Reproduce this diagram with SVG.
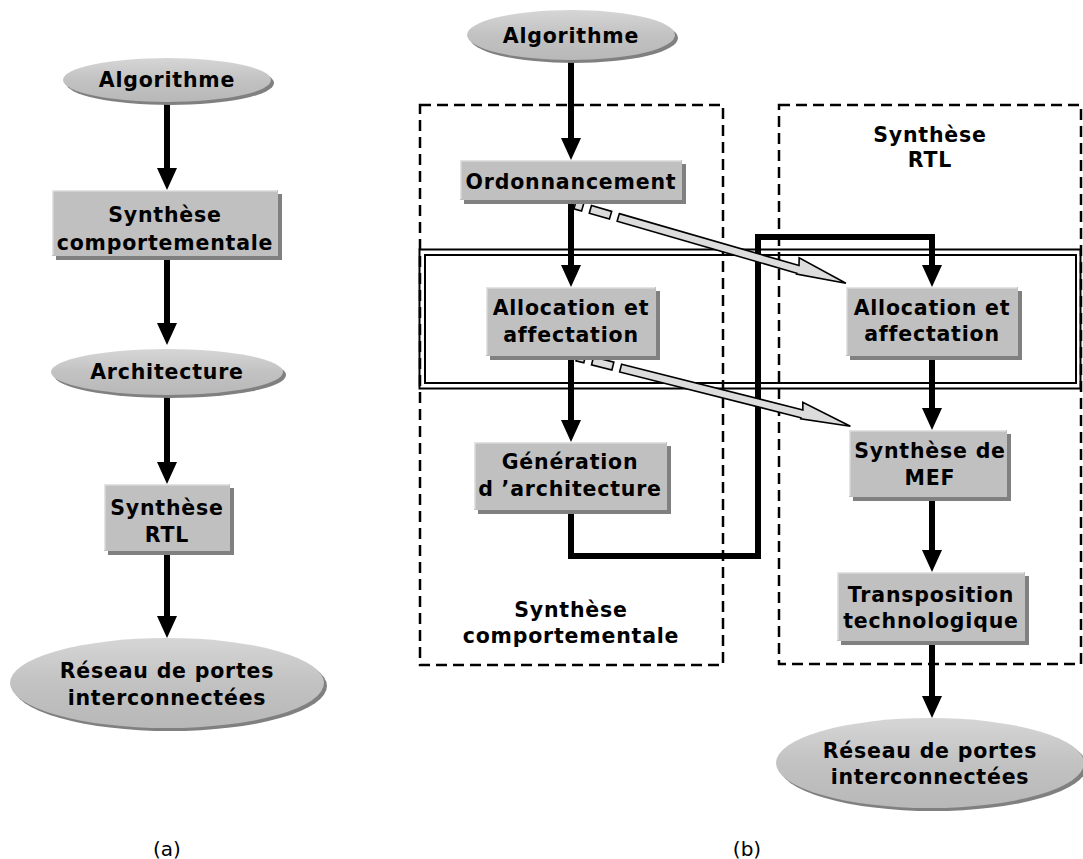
<svg xmlns="http://www.w3.org/2000/svg" xmlns:xlink="http://www.w3.org/1999/xlink" width="1083" height="859" viewBox="0 0 1083 859">
<defs>
<style>
.t{font-family:"DejaVu Sans","Liberation Sans",sans-serif;font-weight:bold;font-size:20.5px;letter-spacing:0.8px;fill:#000;text-anchor:middle}
.cap{font-family:"DejaVu Sans","Liberation Sans",sans-serif;font-size:20px;fill:#000;text-anchor:middle}
.box{fill:#c0c0c0}
.sh{fill:#808080}
.hl{fill:none;stroke:#e4e4e4;stroke-width:1.5}
.ell{fill:url(#eg)}
.shaft{stroke:#000;stroke-width:6;fill:none}
.loop{stroke:#000;stroke-width:6;fill:none;stroke-linejoin:miter}
.dash{fill:none;stroke:#000;stroke-width:2.5;stroke-dasharray:11 6}
.dbl{fill:none;stroke:#000;stroke-width:2}
.hollow{fill:#dcdcdc;stroke:#000;stroke-width:1.6;stroke-linejoin:miter}
</style>
<linearGradient id="eg" x1="0" y1="0" x2="0" y2="1">
<stop offset="0" stop-color="#d6d6d6"/>
<stop offset="0.5" stop-color="#c2c2c2"/>
<stop offset="1" stop-color="#b8b8b8"/>
</linearGradient>
<path id="ah" d="M-10,-22 L10,-22 L0,0 Z" fill="#000"/>
<g id="ha">
<rect class="hollow" x="0" y="-4" width="8" height="8"/>
<rect class="hollow" x="16" y="-4" width="21" height="8"/>
<path class="hollow" d="M45,-4 L232,-4 L230,-11.5 L282,0 L232,5 L232,4 L45,4 Z"/>
</g>
</defs>

<!-- containers -->
<g id="containers">
<rect id="box-comport" class="dash" x="420" y="105" width="303" height="560"/>
<rect id="box-rtl" class="dash" x="779" y="105" width="302" height="559"/>
<rect class="dbl" x="419.5" y="249.5" width="661" height="139"/>
<rect class="dbl" x="425" y="255" width="651" height="128"/>
<text class="t" x="571" y="617">Synthèse</text>
<text class="t" x="571" y="643">comportementale</text>
<text class="t" x="930" y="142">Synthèse</text>
<text class="t" x="930" y="167">RTL</text>
</g>

<!-- connectors -->
<g id="connectors">
<!-- (a) -->
<line class="shaft" x1="167" y1="102" x2="167" y2="170"/><use xlink:href="#ah" x="167" y="190"/>
<line class="shaft" x1="167" y1="256" x2="167" y2="325"/><use xlink:href="#ah" x="167" y="345"/>
<line class="shaft" x1="167" y1="395" x2="167" y2="464"/><use xlink:href="#ah" x="167" y="484"/>
<line class="shaft" x1="167" y1="551" x2="167" y2="618"/><use xlink:href="#ah" x="167" y="638"/>
<!-- (b) -->
<line class="shaft" x1="571" y1="60" x2="571" y2="140"/><use xlink:href="#ah" x="571" y="160"/>
<line class="shaft" x1="571" y1="200" x2="571" y2="267"/><use xlink:href="#ah" x="571" y="287"/>
<line class="shaft" x1="571" y1="356" x2="571" y2="422"/><use xlink:href="#ah" x="571" y="442"/>
<polyline class="loop" points="571,510 571,556 758,556 758,237 932,237 932,268"/><use xlink:href="#ah" x="932" y="287"/>
<line class="shaft" x1="932" y1="356" x2="932" y2="410"/><use xlink:href="#ah" x="932" y="430"/>
<line class="shaft" x1="932" y1="497" x2="932" y2="552"/><use xlink:href="#ah" x="932" y="572"/>
<line class="shaft" x1="932" y1="641" x2="932" y2="698"/><use xlink:href="#ah" x="932" y="718"/>
<use xlink:href="#ha" transform="translate(575,205) rotate(16.1)"/>
<use xlink:href="#ha" transform="translate(577,357) rotate(14.2)"/>
</g>

<!-- (a) nodes -->
<g id="a-algorithme">
<ellipse class="sh" cx="170" cy="83" rx="104" ry="22"/>
<ellipse class="ell" cx="167" cy="80" rx="104" ry="22"/>
<text class="t" x="167" y="87">Algorithme</text>
</g>
<g id="a-synth-comport">
<rect class="sh" x="56" y="194" width="226" height="66"/>
<rect class="box" x="52" y="190" width="226" height="66"/>
<path class="hl" d="M52.75,255 V190.75 H277"/>
<text class="t" x="165" y="222">Synthèse</text>
<text class="t" x="165" y="250">comportementale</text>
</g>
<g id="a-architecture">
<ellipse class="sh" cx="170" cy="375" rx="116" ry="23"/>
<ellipse class="ell" cx="167" cy="372" rx="116" ry="23"/>
<text class="t" x="167" y="379">Architecture</text>
</g>
<g id="a-synth-rtl">
<rect class="sh" x="108" y="488" width="126" height="67"/>
<rect class="box" x="104" y="484" width="126" height="67"/>
<path class="hl" d="M104.75,550 V484.75 H229"/>
<text class="t" x="167" y="515">Synthèse</text>
<text class="t" x="167" y="542">RTL</text>
</g>
<g id="a-reseau">
<ellipse class="sh" cx="170" cy="686" rx="157" ry="45"/>
<ellipse class="ell" cx="167" cy="683" rx="157" ry="45"/>
<text class="t" x="167" y="678">Réseau de portes</text>
<text class="t" x="167" y="705">interconnectées</text>
</g>

<!-- (b) nodes -->
<g id="b-algorithme">
<ellipse class="sh" cx="574" cy="38" rx="104" ry="25"/>
<ellipse class="ell" cx="571" cy="35" rx="104" ry="25"/>
<text class="t" x="571" y="43">Algorithme</text>
</g>
<g id="b-ordonnancement">
<rect class="sh" x="464" y="164" width="222" height="40"/>
<rect class="box" x="460" y="160" width="222" height="40"/>
<path class="hl" d="M460.75,199 V160.75 H681"/>
<text class="t" x="571" y="189">Ordonnancement</text>
</g>
<g id="b-alloc-left">
<rect class="sh" x="490" y="291" width="170" height="69"/>
<rect class="box" x="486" y="287" width="170" height="69"/>
<path class="hl" d="M486.75,355 V287.75 H655"/>
<text class="t" x="571" y="315">Allocation et</text>
<text class="t" x="571" y="342">affectation</text>
</g>
<g id="b-generation">
<rect class="sh" x="478" y="446" width="193" height="68"/>
<rect class="box" x="474" y="442" width="193" height="68"/>
<path class="hl" d="M474.75,509 V442.75 H666"/>
<text class="t" x="570" y="469">Génération</text>
<text class="t" x="570" y="496">d ’architecture</text>
</g>
<g id="b-alloc-right">
<rect class="sh" x="850" y="291" width="172" height="69"/>
<rect class="box" x="846" y="287" width="172" height="69"/>
<path class="hl" d="M846.75,355 V287.75 H1017"/>
<text class="t" x="932" y="315">Allocation et</text>
<text class="t" x="932" y="341">affectation</text>
</g>
<g id="b-mef">
<rect class="sh" x="853" y="434" width="158" height="67"/>
<rect class="box" x="849" y="430" width="158" height="67"/>
<path class="hl" d="M849.75,496 V430.75 H1006"/>
<text class="t" x="930" y="458">Synthèse de</text>
<text class="t" x="930" y="485">MEF</text>
</g>
<g id="b-transposition">
<rect class="sh" x="841" y="576" width="188" height="69"/>
<rect class="box" x="837" y="572" width="188" height="69"/>
<path class="hl" d="M837.75,640 V572.75 H1024"/>
<text class="t" x="931" y="602">Transposition</text>
<text class="t" x="931" y="628">technologique</text>
</g>
<g id="b-reseau">
<ellipse class="sh" cx="933" cy="766" rx="154" ry="45"/>
<ellipse class="ell" cx="930" cy="763" rx="154" ry="45"/>
<text class="t" x="930" y="758">Réseau de portes</text>
<text class="t" x="930" y="784">interconnectées</text>
</g>

<g id="captions">
<text class="cap" x="167" y="856">(a)</text>
<text class="cap" x="747" y="856">(b)</text>
</g>
</svg>
